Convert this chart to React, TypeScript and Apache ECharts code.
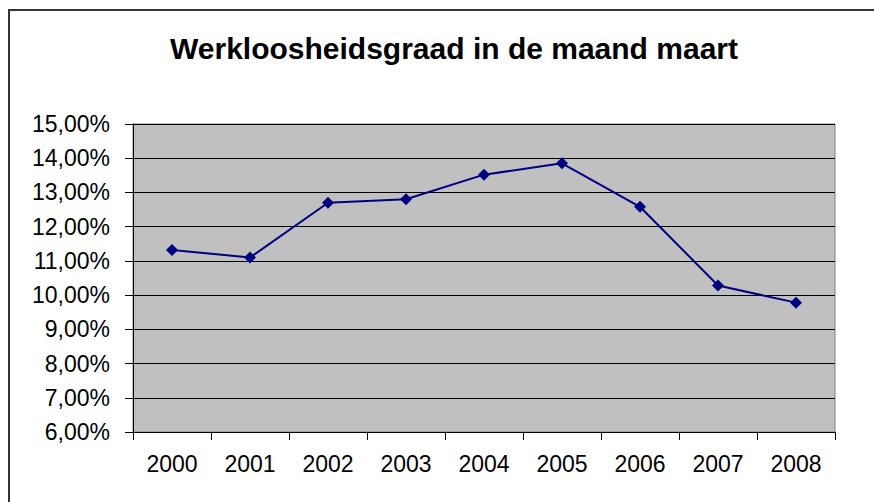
import React, { useEffect, useRef } from "react";
import * as echarts from "echarts";

const titleText = "Werkloosheidsgraad in de maand maart";
const years = ["2000", "2001", "2002", "2003", "2004", "2005", "2006", "2007", "2008"];
const rates = [11.32, 11.1, 12.7, 12.8, 13.52, 13.85, 12.58, 10.28, 9.78];
const yMin = 6;
const yMax = 15;
const yStep = 1;

export default function App() {
  const ref = useRef<HTMLDivElement>(null);
  useEffect(() => {
    if (!ref.current) return;
    const chart = echarts.init(ref.current, null, { renderer: "svg" });
    chart.setOption({
      animation: false,
      backgroundColor: "#ffffff",
      title: {
        text: titleText,
        left: 449,
        top: 28,
        textAlign: "center",
        textStyle: {
          fontFamily: "Liberation Sans, Arial, sans-serif",
          fontSize: 30,
          fontWeight: "bold",
          color: "#000000",
        },
      },
      graphic: [
        {
          type: "rect",
          shape: { x: 9, y: 10, width: 920, height: 600 },
          style: { fill: "none", stroke: "#333333", lineWidth: 2 },
          silent: true,
        },
      ],
      grid: {
        left: 133,
        top: 124,
        right: 39,
        bottom: 70,
        show: true,
        backgroundColor: "#C0C0C0",
        borderColor: "#808080",
        borderWidth: 1,
        containLabel: false,
        outerBoundsMode: "none",
      },
      xAxis: {
        type: "category",
        data: years,
        boundaryGap: true,
        axisLine: { show: true, lineStyle: { color: "#000000", width: 1 } },
        axisTick: { show: true, length: 8, inside: false, lineStyle: { color: "#000000" } },
        axisLabel: {
          fontFamily: "Liberation Sans, Arial, sans-serif",
          fontSize: 23,
          color: "#000000",
          margin: 20,
          interval: 0,
        },
        splitLine: { show: false },
      },
      yAxis: {
        type: "value",
        min: yMin,
        max: yMax,
        interval: yStep,
        axisLine: { show: true, lineStyle: { color: "#000000", width: 1 } },
        axisTick: { show: true, length: 8, inside: false, lineStyle: { color: "#000000" } },
        axisLabel: {
          fontFamily: "Liberation Sans, Arial, sans-serif",
          fontSize: 23,
          color: "#000000",
          margin: 23,
          formatter: (v: number) => v.toFixed(2).replace(".", ",") + "%",
        },
        splitLine: { show: true, lineStyle: { color: "#000000", width: 1 } },
      },
      series: [
        {
          type: "line",
          data: rates,
          symbol: "diamond",
          symbolSize: 12,
          lineStyle: { color: "#000080", width: 2 },
          itemStyle: { color: "#000080" },
        },
      ],
    });
    return () => chart.dispose();
  }, []);
  return (
    <div
      ref={ref}
      style={{ position: "absolute", left: 0, top: 0, width: 874, height: 502 }}
    />
  );
}
